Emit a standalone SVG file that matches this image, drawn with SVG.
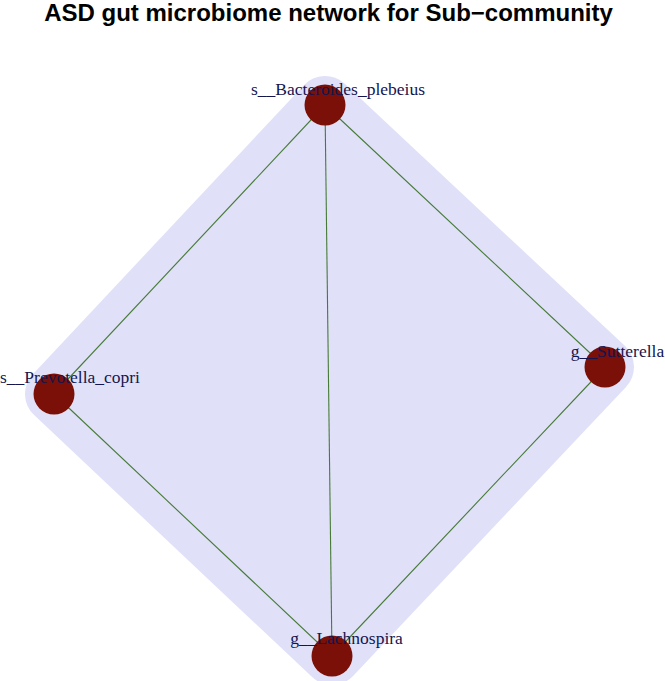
<svg xmlns="http://www.w3.org/2000/svg" width="665" height="681" viewBox="0 0 665 681">
  <style>
    .title { font-family: "Liberation Sans", Arial, sans-serif; font-weight: bold; font-size: 24px; fill: #000; }
    .hull { fill: #E0E1F8; stroke: #E0E1F8; stroke-width: 58; stroke-linejoin: round; }
    .edge { stroke: #477A38; stroke-width: 1.1; fill: none; }
    .node circle { fill: #7A1008; }
    .node text { font-family: "Liberation Serif", "Times New Roman", serif; font-size: 17.5px; fill: #15154F; text-anchor: middle; }
  </style>
  <rect width="665" height="681" fill="#ffffff"/>
  <text class="title" x="328.5" y="21" text-anchor="middle">ASD gut microbiome network for Sub−community</text>
  <g id="group-hull">
    <polygon class="hull" points="325,105 605,367 332,656 54,394"/>
  </g>
  <g id="connectors">
    <line class="edge" x1="325" y1="105" x2="54" y2="394"/>
    <line class="edge" x1="325" y1="105" x2="332" y2="656"/>
    <line class="edge" x1="325" y1="105" x2="605" y2="367"/>
    <line class="edge" x1="54" y1="394" x2="332" y2="656"/>
    <line class="edge" x1="605" y1="367" x2="332" y2="656"/>
  </g>
  <g id="node-bacteroides" class="node">
    <circle cx="325" cy="105" r="20.5"/>
    <text x="338" y="95">s__Bacteroides_plebeius</text>
  </g>
  <g id="node-prevotella" class="node">
    <circle cx="54" cy="394" r="20.5"/>
    <text x="70" y="383">s__Prevotella_copri</text>
  </g>
  <g id="node-sutterella" class="node">
    <circle cx="605" cy="367" r="20.5"/>
    <text x="617.5" y="357">g__Sutterella</text>
  </g>
  <g id="node-lachnospira" class="node">
    <circle cx="332" cy="656" r="20.5"/>
    <text x="346.5" y="644">g__Lachnospira</text>
  </g>
</svg>
